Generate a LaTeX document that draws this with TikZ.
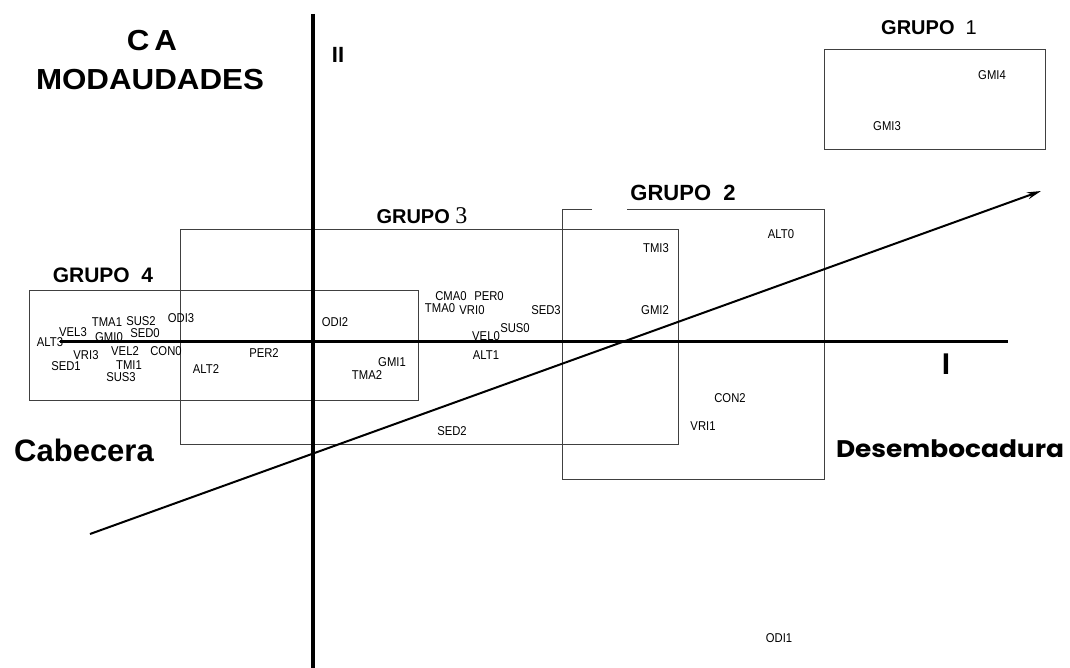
\documentclass[tikz,border=0pt]{standalone}
\usepackage{fontspec}
\setmainfont{Liberation Sans}
\newfontfamily\gothic[FakeStretch=1.1]{Poppins}
\newfontfamily\serifnum{Liberation Serif}
\newfontfamily\lblfont[FakeStretch=0.88]{Liberation Sans}
\newfontfamily\widebold[FakeStretch=1.08]{Liberation Sans}
\usetikzlibrary{arrows.meta}
\tikzset{
  lbl/.style={inner sep=0pt, font=\lblfont\fontsize{12.8}{12.8}\selectfont},
  grp/.style={inner sep=0pt, font=\fontsize{20}{20}\selectfont\bfseries},
  title/.style={inner sep=0pt, font=\widebold\fontsize{29}{29}\selectfont\bfseries},
  boxline/.style={draw=black!75, line width=0.8pt},
  axis/.style={line width=3.5pt},
  diag/.style={line width=2pt, -{Stealth[length=14pt,width=7pt]}}
}
\begin{document}
\begin{tikzpicture}[x=1pt,y=-1pt]
\useasboundingbox[fill=white] (0,0) rectangle (1070,668);
% group boxes
\draw[boxline] (824,49) rectangle (1045,149);
\draw[boxline] (592,209) -- (562,209) -- (562,479) -- (824,479) -- (824,209) -- (627,209);
\draw[boxline] (180,229) rectangle (678,444);
\draw[boxline] (29,290) rectangle (418,400);
% axes
\coordinate (vtop) at (313,14);
\coordinate (vbot) at (313,668);
\coordinate (hl) at (60,341);
\coordinate (hr) at (1008,341);
\coordinate (ds) at (90,534);
\coordinate (de) at (1041,191);
\draw[axis] (vtop) -- (vbot);
\draw[line width=3pt] (hl) -- (hr);
\draw[diag] (ds) -- (de);
% titles
\node[title] (ca) at (152,41) {C\,A};
\node[title] (mod) at (150,80) {MODAUDADES};
\node[inner sep=0pt, font=\fontsize{22}{22}\selectfont\bfseries] (ii) at (338,55) {II};
\node[inner sep=0pt, font=\fontsize{30}{30}\selectfont\bfseries] (i) at (946,364) {I};
\node[inner sep=0pt, font=\fontsize{31}{31}\selectfont\bfseries] (cab) at (84,450) {Cabecera};
\node[inner sep=0pt, font=\gothic\fontsize{24}{24}\selectfont\bfseries] (des) at (950,449) {Desembocadura};
% group labels
\node[grp] (g1) at (929,28) {GRUPO\ \ \mdseries1};
\node[inner sep=0pt, font=\fontsize{22}{22}\selectfont\bfseries] (g2) at (683,193) {GRUPO\ \ 2};
\node[grp] (g3) at (422,216) {GRUPO\ {\serifnum\mdseries\fontsize{24}{24}\selectfont 3}};
\node[inner sep=0pt, font=\fontsize{21}{21}\selectfont\bfseries] (g4) at (103,275) {GRUPO\ \ 4};
% point labels
\node[lbl] at (107,322) {TMA1};
\node[lbl] at (141,321) {SUS2};
\node[lbl] at (181,318) {ODI3};
\node[lbl] at (73,332) {VEL3};
\node[lbl] at (109,337) {GMI0};
\node[lbl] at (145,333) {SED0};
\node[lbl] at (50,342) {ALT3};
\node[lbl] at (86,355) {VRI3};
\node[lbl] at (66,366) {SED1};
\node[lbl] at (125,351) {VEL2};
\node[lbl] at (166,351) {CON0};
\node[lbl] at (129,365) {TMI1};
\node[lbl] at (121,377) {SUS3};
\node[lbl] at (206,369) {ALT2};
\node[lbl] at (264,353) {PER2};
\node[lbl] at (451,296) {CMA0};
\node[lbl] at (489,296) {PER0};
\node[lbl] at (440,308) {TMA0};
\node[lbl] at (472,310) {VRI0};
\node[lbl] at (546,310) {SED3};
\node[lbl] at (335,322) {ODI2};
\node[lbl] at (515,328) {SUS0};
\node[lbl] at (486,336) {VEL0};
\node[lbl] at (486,355) {ALT1};
\node[lbl] at (392,362) {GMI1};
\node[lbl] at (367,375) {TMA2};
\node[lbl] at (452,431) {SED2};
\node[lbl] at (656,248) {TMI3};
\node[lbl] at (781,234) {ALT0};
\node[lbl] at (655,310) {GMI2};
\node[lbl] at (730,398) {CON2};
\node[lbl] at (703,426) {VRI1};
\node[lbl] at (992,75) {GMI4};
\node[lbl] at (887,126) {GMI3};
\node[lbl] at (779,638) {ODI1};
\end{tikzpicture}
\end{document}
